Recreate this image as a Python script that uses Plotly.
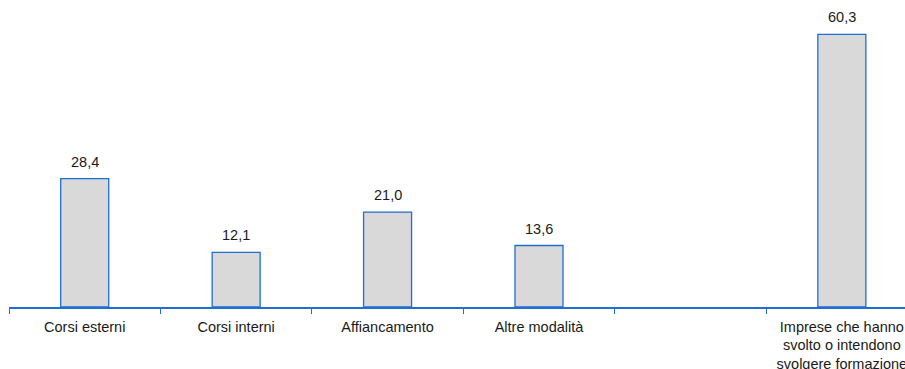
import plotly.graph_objects as go

categories = ["Corsi esterni", "Corsi interni", "Affiancamento", "Altre modalità", "",
              "Imprese che hanno<br>svolto o intendono<br>svolgere formazione"]
values = [28.4, 12.1, 21.0, 13.6, None, 60.3]
labels = ["28,4", "12,1", "21,0", "13,6", "", "60,3"]

xs = list(range(len(categories)))
bx = [x for x, v in zip(xs, values) if v is not None]
bv = [v for v in values if v is not None]
bl = [l for l, v in zip(labels, values) if v is not None]

fig = go.Figure()
fig.add_trace(go.Bar(
    x=bx, y=bv, width=0.317,
    marker=dict(color="#d9d9d9", line=dict(color="#1f6ed4", width=1.3)),
    hoverinfo="skip",
))
for x, v, l in zip(bx, bv, bl):
    fig.add_annotation(x=x, y=v, text=l, showarrow=False, yanchor="bottom", yshift=7,
                       font=dict(family="Liberation Sans, Arial", size=14.5, color="#1a1a1a"))

fig.update_layout(
    width=905, height=369,
    margin=dict(l=9, r=0, t=0, b=62, autoexpand=False),
    plot_bgcolor="white", paper_bgcolor="white",
    showlegend=False,
    font=dict(family="Liberation Sans, Arial", size=14.5, color="#1a1a1a"),
    bargap=0,
)
fig.update_xaxes(
    range=[-0.5, 5.417],
    tickvals=xs, ticktext=categories, ticks="", ticklen=0,
    showline=True, linecolor="#1f6ed4", linewidth=2.2,
    showgrid=False, zeroline=False, automargin=False,
    ticklabelstandoff=5, ticklabeloverflow="allow",
    minor=dict(tick0=-0.5, dtick=1, ticks="outside", ticklen=5, tickcolor="#1f6ed4", tickwidth=1, showgrid=False),
)
fig.update_yaxes(range=[0, 67.9], visible=False, showgrid=False, zeroline=False, automargin=False)

fig.write_html("out.html", config={"displayModeBar": False, "staticPlot": True},
               post_script="document.body.style.margin='0';document.body.style.overflow='hidden';")
